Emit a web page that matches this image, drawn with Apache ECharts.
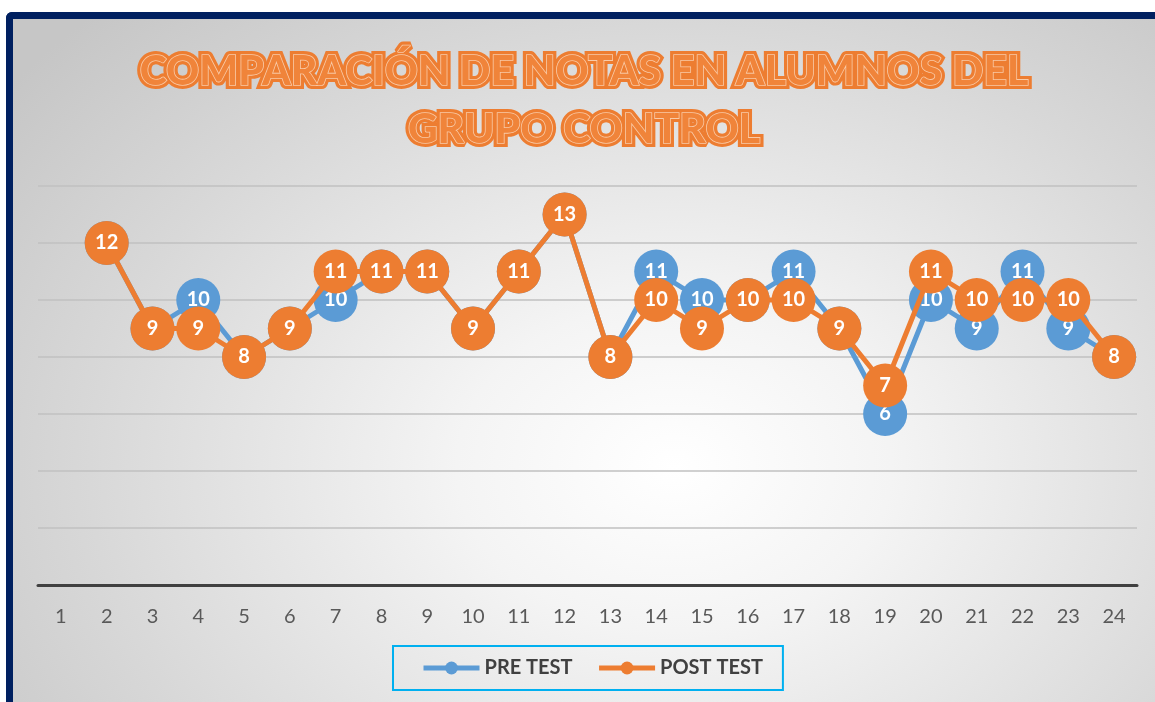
<!DOCTYPE html>
<html lang="es">
<head>
<meta charset="UTF-8">
<title>Comparación de notas - grupo control</title>
<script src="https://cdn.jsdelivr.net/npm/echarts@6/dist/echarts.min.js"></script>
<style>
    html, body { margin: 0; padding: 0; width: 1155px; height: 702px; overflow: hidden; background: #fff; }
    #frame {
        position: absolute; left: 6px; top: 12px;
        width: 1160px; height: 700px;
        border-left: 7px solid #002060; border-top: 7px solid #002060;
        border-top-left-radius: 6px;
        background: radial-gradient(ellipse 72% 90% at 57% 64%, #ffffff 0%, #f4f4f4 26%, #d8d8d8 70%, #c6c6c6 100%);
    }
    #container { width: 1142px; height: 683px; }
</style>
</head>
<body>
<div id="frame"><div id="container"></div></div>
<script>
    var categories = ['1','2','3','4','5','6','7','8','9','10','11','12','13','14','15','16','17','18','19','20','21','22','23','24'];
    // alumno 1 sin nota
    var preTest  = [null, 12, 9, 10, 8, 9, 10, 11, 11, 9, 11, 13, 8, 11, 10, 10, 11, 9, 6, 10, 9, 11, 9, 8];
    var postTest = [null, 12, 9, 9, 8, 9, 11, 11, 11, 9, 11, 13, 8, 10, 9, 10, 10, 9, 7, 11, 10, 10, 10, 8];
    var yTicks = { min: 0, max: 14, interval: 2 };

    var titleText = 'COMPARACIÓN DE NOTAS EN ALUMNOS DEL\nGRUPO CONTROL';
    var font = 'Lato';

    var myChart = echarts.init(document.getElementById('container'));

    function serie(name, data, color, z) {
        return {
            name: name,
            type: 'line',
            data: data,
            z: z,
            symbol: 'circle',
            symbolSize: 44,
            showAllSymbol: true,
            connectNulls: false,
            itemStyle: { color: color },
            lineStyle: { color: color, width: 5 },
            label: {
                show: true,
                position: 'inside',
                color: '#ffffff',
                fontSize: 20,
                fontWeight: 'bold',
                fontFamily: font
            },
            emphasis: { disabled: true }
        };
    }

    var option = {
        backgroundColor: 'transparent',
        animation: false,
        title: [{
            text: titleText,
            left: 'center',
            top: 19,
            textStyle: {
                fontFamily: font, fontSize: 41, fontWeight: 900,
                lineHeight: 58, color: '#ED7D31',
                textBorderColor: '#ED7D31', textBorderWidth: 8
            }
        }, {
            text: titleText,
            left: 'center',
            top: 19,
            textStyle: {
                fontFamily: font, fontSize: 41, fontWeight: 900,
                lineHeight: 58, color: '#F0843A',
                textBorderColor: '#F9CBA8', textBorderWidth: 1.6
            }
        }],
        grid: { left: 25, right: 18, top: 167, bottom: 117, containLabel: false },
        legend: {
            data: ['PRE TEST', 'POST TEST'],
            left: 380,
            top: 627,
            borderColor: '#00B0F0',
            borderWidth: 2,
            padding: [12, 20, 12, 28],
            itemGap: 24,
            itemWidth: 56,
            itemHeight: 16,
            lineStyle: { width: 5 },
            textStyle: { color: '#404040', fontSize: 20, fontWeight: 'bold', fontFamily: font }
        },
        xAxis: {
            type: 'category',
            data: categories,
            boundaryGap: true,
            axisLine: { lineStyle: { color: '#404040', width: 3 } },
            axisTick: { show: false },
            axisLabel: { color: '#595959', fontSize: 20, margin: 22, fontFamily: font }
        },
        yAxis: {
            type: 'value',
            min: yTicks.min,
            max: yTicks.max,
            interval: yTicks.interval,
            axisLabel: { show: false },
            axisLine: { show: false },
            axisTick: { show: false },
            splitLine: { lineStyle: { color: '#c0c0c0', width: 1.5 } }
        },
        series: [
            serie('PRE TEST', preTest, '#5B9BD5', 2),
            serie('POST TEST', postTest, '#ED7D31', 3)
        ]
    };
    myChart.setOption(option, true);
</script>
</body>
</html>
